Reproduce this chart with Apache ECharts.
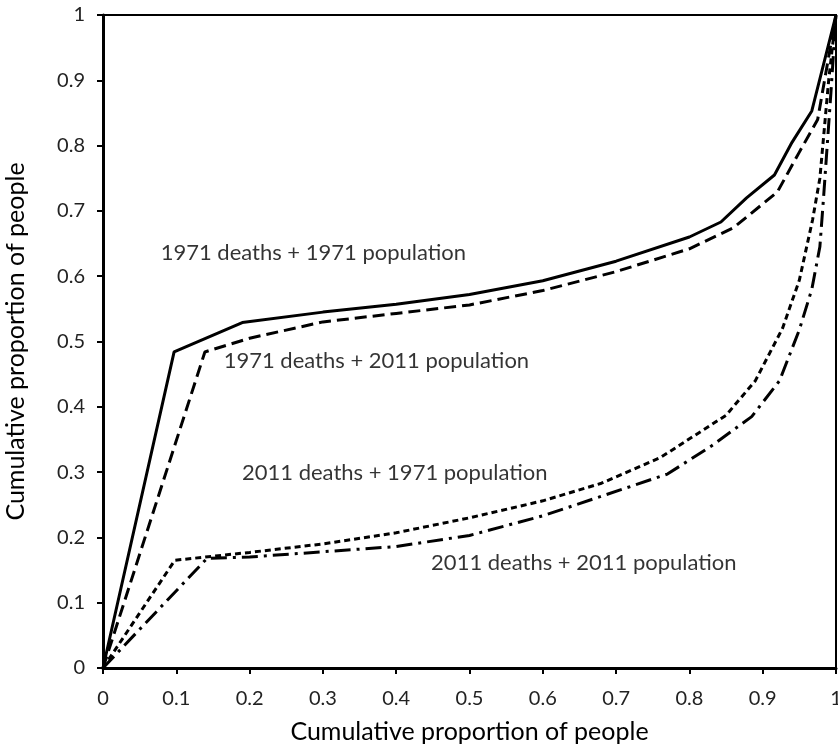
<!DOCTYPE html>
<html><head><meta charset="utf-8">
<script src="https://cdn.jsdelivr.net/npm/echarts@6/dist/echarts.min.js"></script>
<style>html,body{margin:0;padding:0;background:#fff}#c{width:838px;height:745px}</style>
</head><body><div id="c"></div>
<script>
const d71p71 = [[0,0],[0.097,0.484],[0.19,0.529],[0.3,0.545],[0.4,0.557],[0.5,0.572],[0.6,0.593],[0.7,0.623],[0.8,0.66],[0.843,0.683],[0.878,0.72],[0.916,0.755],[0.94,0.805],[0.967,0.853],[1,1]];
const d71p11 = [[0,0],[0.139,0.484],[0.2,0.505],[0.3,0.53],[0.4,0.543],[0.5,0.556],[0.6,0.578],[0.7,0.607],[0.8,0.642],[0.86,0.674],[0.92,0.729],[0.95,0.79],[0.975,0.84],[1,1]];
const d11p71 = [[0,0],[0.098,0.165],[0.2,0.177],[0.3,0.19],[0.4,0.207],[0.5,0.23],[0.6,0.256],[0.68,0.283],[0.76,0.322],[0.85,0.387],[0.89,0.44],[0.927,0.52],[0.95,0.594],[0.968,0.686],[0.978,0.75],[0.99,0.9],[1,1]];
const d11p11 = [[0,0],[0.142,0.168],[0.2,0.17],[0.3,0.178],[0.4,0.186],[0.5,0.203],[0.6,0.233],[0.68,0.263],[0.77,0.297],[0.83,0.34],[0.885,0.385],[0.923,0.44],[0.95,0.518],[0.967,0.58],[0.978,0.645],[0.983,0.72],[0.993,0.88],[1,1]];
const seriesNames = ['1971 deaths + 1971 population','1971 deaths + 2011 population','2011 deaths + 1971 population','2011 deaths + 2011 population'];
const labelPos = [[0.287,0.635],[0.373,0.47],[0.398,0.298],[0.656,0.161]];
const axisTitle = 'Cumulative proportion of people';

const FONT = 'Lato';
const dashes = ['solid',[12,6],[6,4],[16,6,3,6]];
const seriesData = [d71p71,d71p11,d11p71,d11p11];
const chart = echarts.init(document.getElementById('c'));
const series = seriesData.map((d,i)=>({
  type:'line', name:seriesNames[i], data:d, symbol:'none', smooth:false,
  lineStyle:{color:'#000', width:3, type:dashes[i]}, z:3
}));
series.push({
  type:'scatter', symbolSize:0, silent:true,
  data: labelPos.map((p,i)=>({value:p, label:{show:true, formatter:seriesNames[i]}})),
  label:{position:'inside', color:'#000', fontSize:22, fontFamily:FONT}
});
chart.setOption({
  animation:false,
  grid:{left:103, right:2, top:15, bottom:77, outerBoundsMode:'none', containLabel:false, show:true, borderColor:'#000', borderWidth:2},
  xAxis:{type:'value', min:0, max:1, interval:0.1,
    name:axisTitle, nameLocation:'middle', nameGap:51, nameMoveOverlap:false,
    nameTextStyle:{fontSize:25, color:'#000', fontFamily:FONT, verticalAlign:'top'},
    axisLine:{lineStyle:{color:'#000', width:3}},
    axisTick:{show:true, length:6, lineStyle:{color:'#000', width:2}},
    axisLabel:{fontSize:20, color:'#222', fontFamily:FONT, margin:21},
    splitLine:{show:false}},
  yAxis:{type:'value', min:0, max:1, interval:0.1,
    name:axisTitle, nameLocation:'middle', nameGap:75, nameMoveOverlap:false,
    nameTextStyle:{fontSize:25, color:'#000', fontFamily:FONT},
    axisLine:{show:true, lineStyle:{color:'#000', width:3}},
    axisTick:{show:true, length:6, lineStyle:{color:'#000', width:2}},
    axisLabel:{fontSize:20, color:'#222', fontFamily:FONT, margin:18},
    splitLine:{show:false}},
  series
});
</script></body></html>
